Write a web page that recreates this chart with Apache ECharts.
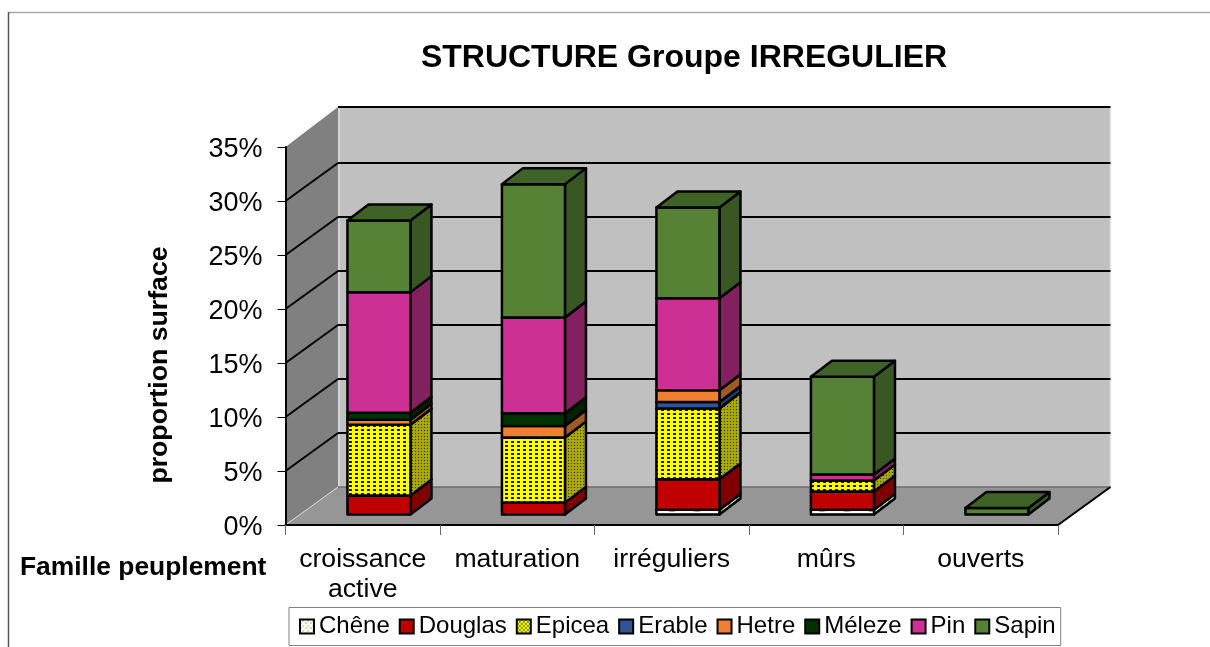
<!DOCTYPE html>
<html lang="fr">
<head>
<meta charset="utf-8">
<title>STRUCTURE Groupe IRREGULIER</title>
<style>html,body{margin:0;padding:0;background:#fff}#c{width:1210px;height:647px}</style>
<script src="https://cdn.jsdelivr.net/npm/echarts@6/dist/echarts.min.js"></script>
</head>
<body>
<div id="c"></div>
<script>
const categories = ['croissance\nactive', 'maturation', 'irréguliers', 'mûrs', 'ouverts'];
const yTicks = [0, 0.05, 0.10, 0.15, 0.20, 0.25, 0.30, 0.35];
const speciesNames = ['Chêne', 'Douglas', 'Epicea', 'Erable', 'Hetre', 'Méleze', 'Pin', 'Sapin'];
const chene   = [0,      0,      0.0045, 0.0045, 0];
const douglas = [0.0175, 0.0110, 0.0281, 0.0167, 0];
const epicea  = [0.0655, 0.0603, 0.0656, 0.0102, 0];
const erable  = [0,      0,      0.0059, 0,      0];
const hetre   = [0.0047, 0.0107, 0.0110, 0,      0];
const meleze  = [0.0065, 0.0117, 0,      0,      0];
const pin     = [0.1117, 0.0887, 0.0851, 0.0056, 0];
const sapin   = [0.0664, 0.1235, 0.0840, 0.0905, 0.0060];
const seriesValues = [chene, douglas, epicea, erable, hetre, meleze, pin, sapin];

// Depth projection of the box and of the bars (pixels).
const wallDX = 52.5, wallDY = 38;
const barDX = 16.2, barDY = 10.5, barDepthX = 21, barDepthY = 16, barWidthRatio = 0.408;

function pattern(w, h, bg, fg, paint) {
  const cv = document.createElement('canvas');
  cv.width = w; cv.height = h;
  const g = cv.getContext('2d');
  g.fillStyle = bg; g.fillRect(0, 0, w, h);
  g.fillStyle = fg; paint(g);
  return { image: cv, repeat: 'repeat' };
}
const epiceaFront = pattern(6, 4, '#ffff00', '#1c1c00', g => g.fillRect(1, 1, 3, 2));
const epiceaSide  = pattern(3, 3, '#a8a800', '#2a2a00', g => g.fillRect(1, 1, 1, 1));
const epiceaTop   = pattern(3, 3, '#c0c000', '#2a2a00', g => g.fillRect(1, 1, 1, 1));
const epiceaKey   = pattern(4, 4, '#ffff00', '#1c1c00', g => { g.fillRect(0, 0, 2, 1); g.fillRect(2, 2, 2, 1); });
const cheneFront  = pattern(25, 25, '#ffffff', '#9acd32', g => g.fillRect(19, 10, 6, 2));
const cheneSide   = pattern(8, 8, '#e0e0e0', '#8fb030', g => g.fillRect(0, 0, 3, 8));
const cheneKey    = pattern(5, 5, '#ffffff', '#9acd32', g => { g.fillRect(0, 3, 2, 1); g.fillRect(2, 1, 2, 1); });

const frontFills = [cheneFront, '#c00000', epiceaFront, '#2f5597', '#f08030', '#003300', '#cc3094', '#558235'];
const sideFills  = [cheneSide, '#800000', epiceaSide, '#1f3a66', '#a05a22', '#002200', '#822060', '#385723'];
const topFills   = [cheneSide, '#900000', epiceaTop, '#254575', '#b06428', '#002a00', '#8f2468', '#3f6326'];
const keyFills   = [cheneKey, '#c00000', epiceaKey, '#2f5597', '#f08030', '#003300', '#cc3094', '#558235'];

// Cumulative stack
const stackTops = categories.map((_, c) => {
  let last = -1;
  seriesValues.forEach((vals, s) => { if (vals[c] > 0) last = s; });
  return last;
});
function stackedData(s) {
  return categories.map((_, c) => {
    let base = 0;
    for (let i = 0; i < s; i++) base += seriesValues[i][c];
    return [c, base, base + seriesValues[s][c], stackTops[c] === s ? 1 : 0];
  });
}

const edge = { stroke: '#000', lineWidth: 2.5, lineJoin: 'round' };
function poly(points, fill) {
  return { type: 'polygon', shape: { points }, style: Object.assign({ fill }, edge) };
}
function barRenderer(s) {
  return function (params, api) {
    const lo = api.value(1), hi = api.value(2);
    if (hi - lo <= 0) return null;
    const w = api.size([1, 0])[0] * barWidthRatio;
    const a = api.coord([api.value(0), lo]);
    const b = api.coord([api.value(0), hi]);
    const l = a[0] + barDX - w / 2, r = l + w;
    const y0 = a[1] - barDY, y1 = b[1] - barDY;
    const children = [
      poly([[r, y0], [r + barDepthX, y0 - barDepthY], [r + barDepthX, y1 - barDepthY], [r, y1]], sideFills[s]),
      poly([[l, y0], [r, y0], [r, y1], [l, y1]], frontFills[s])
    ];
    if (api.value(3)) {
      children.push(poly([[l, y1], [r, y1], [r + barDepthX, y1 - barDepthY], [l + barDepthX, y1 - barDepthY]], topFills[s]));
    }
    return { type: 'group', children };
  };
}

function wallRenderer(params, api) {
  const half = api.size([1, 0])[0] / 2;
  const x0 = api.coord([0, 0])[0] - half;
  const x1 = api.coord([categories.length - 1, 0])[0] + half;
  const yb = api.coord([0, yTicks[0]])[1];
  const yt = api.coord([0, yTicks[yTicks.length - 1]])[1];
  const plain = (points, fill) => ({ type: 'polygon', shape: { points }, style: { fill }, silent: true });
  const seg = (p, q, stroke, lineWidth) => ({ type: 'line', shape: { x1: p[0], y1: p[1], x2: q[0], y2: q[1] }, style: { stroke, lineWidth } });
  return {
    type: 'group',
    children: [
      plain([[x0 + wallDX, yt - wallDY - 2], [x1 + wallDX, yt - wallDY - 2], [x1 + wallDX, yb - wallDY], [x0 + wallDX, yb - wallDY]], '#c0c0c0'),
      plain([[x0, yt], [x0 + wallDX, yt - wallDY - 2], [x0 + wallDX, yb - wallDY], [x0, yb]], '#808080'),
      plain([[x0, yb], [x0 + wallDX, yb - wallDY], [x1 + wallDX, yb - wallDY], [x1, yb]], '#969696'),
      seg([x0 + wallDX + 1, yt - wallDY - 2], [x0 + wallDX + 1, yb - wallDY], '#dcdcdc', 1.5),
      seg([x1 + wallDX, yt - wallDY - 2], [x1 + wallDX, yb - wallDY], '#e4e4e4', 1.5),
      seg([x0, yb], [x0 + wallDX, yb - wallDY], '#d8d8d8', 1),
      seg([x0 + wallDX, yb - wallDY], [x1 + wallDX, yb - wallDY], '#6e6e6e', 1.5),
      seg([x1, yb], [x1 + wallDX, yb - wallDY], '#000', 2)
    ]
  };
}
function gridRenderer(params, api) {
  const v = api.value(1);
  const half = api.size([1, 0])[0] / 2;
  const p = api.coord([0, v]);
  const x0 = p[0] - half;
  const x1 = api.coord([categories.length - 1, v])[0] + half;
  const top = v >= yTicks[yTicks.length - 1];
  const dy = top ? wallDY + 2 : wallDY;
  const back = { type: 'line', shape: { x1: x0 + wallDX, y1: p[1] - dy, x2: x1 + wallDX, y2: p[1] - dy }, style: { stroke: '#000', lineWidth: 2 } };
  if (top) return back;
  return { type: 'group', children: [
    back,
    { type: 'line', shape: { x1: x0, y1: p[1], x2: x0 + wallDX, y2: p[1] - dy }, style: { stroke: '#000', lineWidth: 2 } }
  ] };
}

const chart = echarts.init(document.getElementById('c'), null, { renderer: 'canvas' });
chart.setOption({
  animation: false,
  backgroundColor: '#fff',
  textStyle: { fontFamily: '"Liberation Sans", Arial, sans-serif', color: '#000' },
  title: {
    text: 'STRUCTURE Groupe IRREGULIER',
    left: 679, top: 37, textAlign: 'center',
    textStyle: { fontFamily: '"Liberation Sans"', fontSize: 32, fontWeight: 'bold', color: '#000' }
  },
  grid: { left: 285.5, right: 152, top: 147, bottom: 122, containLabel: false },
  xAxis: {
    type: 'category', data: categories, z: 10,
    axisLine: { show: true, lineStyle: { color: '#000', width: 2 } },
    axisTick: { show: true, length: 10, lineStyle: { color: '#666', width: 1 } },
    axisLabel: { fontFamily: '"Liberation Sans"', fontSize: 26.6, color: '#000', margin: 20, lineHeight: 29.5, interval: 0 }
  },
  yAxis: {
    type: 'value', min: 0, max: 0.35, interval: 0.05, z: 10,
    splitLine: { show: false },
    axisLine: { show: true, lineStyle: { color: '#000', width: 2 } },
    axisTick: { show: true, length: 8, lineStyle: { color: '#000', width: 1 } },
    axisLabel: { fontFamily: '"Liberation Sans"', fontSize: 27, color: '#000', margin: 23,
      verticalAlign: 'top', lineHeight: 6,
      formatter: v => Math.round(v * 100) + '%' }
  },
  legend: {
    left: 289, top: 607.5, orient: 'horizontal', icon: 'rect',
    padding: [7, 5, 7, 10], itemGap: 9, itemWidth: 14, itemHeight: 14,
    backgroundColor: '#fff', borderColor: '#808080', borderWidth: 1,
    textStyle: { fontFamily: '"Liberation Sans"', fontSize: 24, color: '#000' },
    selectedMode: false,
    data: speciesNames.map((name, i) => ({
      name, icon: 'rect',
      itemStyle: { color: keyFills[i], borderColor: '#000', borderWidth: 2 }
    }))
  },
  graphic: [
    { type: 'line', silent: true, shape: { x1: 8, y1: 12.5, x2: 1210, y2: 12.5 }, style: { stroke: '#aaaaaa', lineWidth: 1.5 } },
    { type: 'line', silent: true, shape: { x1: 8.5, y1: 12, x2: 8.5, y2: 647 }, style: { stroke: '#555555', lineWidth: 1.5 } },
    { type: 'text', left: 20, top: 555, silent: true,
      style: { text: 'Famille peuplement', fontFamily: '"Liberation Sans"', fontSize: 26.4, fontWeight: 'bold', fill: '#000' } },
    { type: 'text', silent: true, x: 160, y: 365, rotation: Math.PI / 2,
      style: { text: 'proportion surface', x: 0, y: 0, align: 'center', verticalAlign: 'middle',
        fontFamily: '"Liberation Sans"', fontSize: 26.7, fontWeight: 'bold', fill: '#000' } }
  ],
  series: [
    { type: 'custom', name: 'walls', silent: true, z: 1, renderItem: wallRenderer, data: [[0, 0]], encode: { x: 0, y: 1 } },
    { type: 'custom', name: 'gridlines', silent: true, z: 1, renderItem: gridRenderer, data: yTicks.slice(1).map(v => [0, v]), encode: { x: 0, y: 1 } }
  ].concat(speciesNames.map((name, s) => ({
    type: 'custom', name, z: 3, renderItem: barRenderer(s),
    data: stackedData(s), encode: { x: 0, y: 2 },
    itemStyle: { color: keyFills[s] }
  })))
});
</script>
</body>
</html>
